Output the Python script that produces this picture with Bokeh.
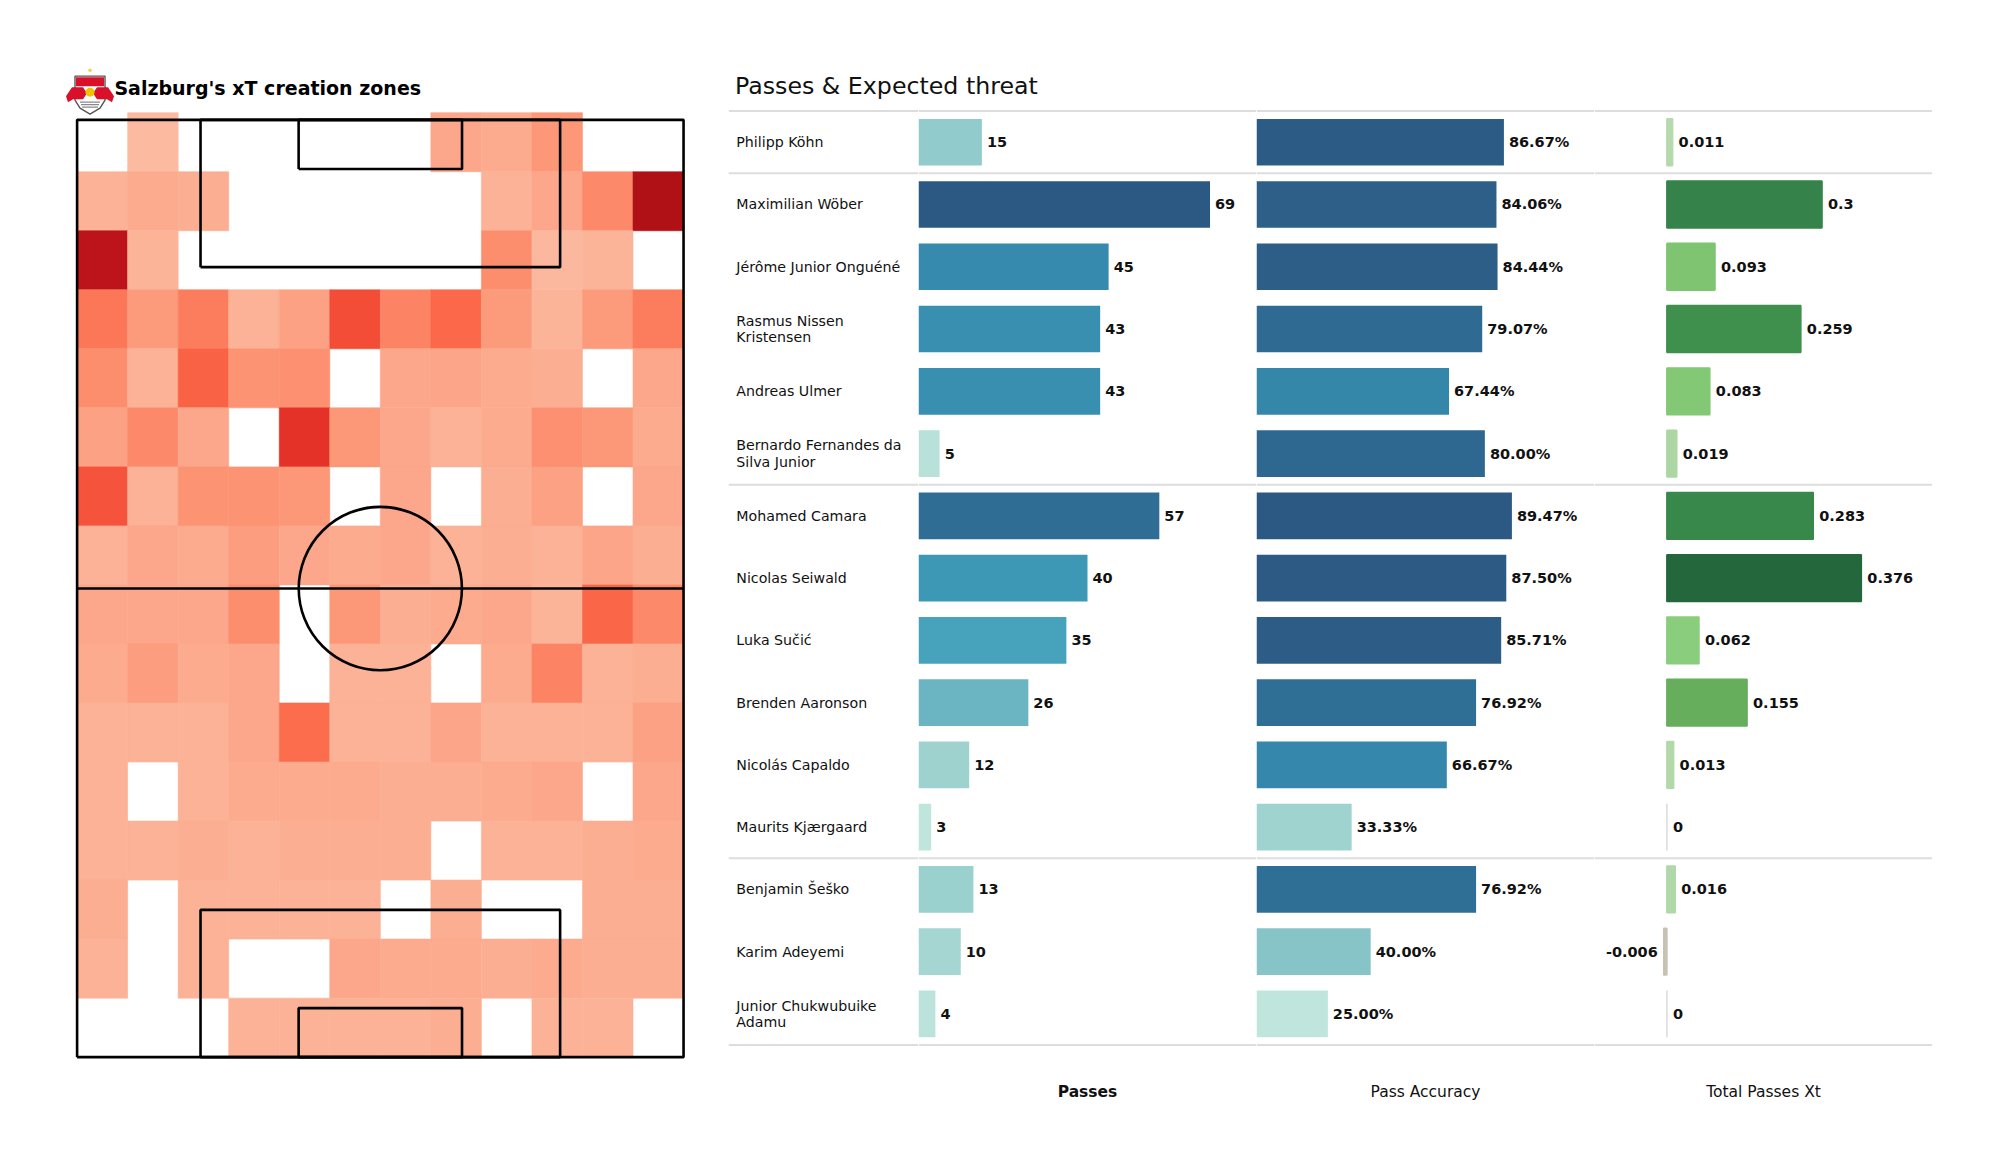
from bokeh.plotting import figure
from bokeh.models import Range1d, LinearColorMapper, ColumnDataSource, Label, Span
from bokeh.transform import transform
from bokeh.palettes import Reds256
from bokeh.layouts import row, column
from bokeh.core.properties import value, field
from bokeh.embed import file_html
from bokeh.resources import INLINE

# ---------------- data ----------------
# xT creation zones: 16 rows (top = attacking end) x 12 columns, normalised intensity (None = no value)
xt_zones = [
    [None, 0.25, None, None, None, None, None, 0.31, 0.30, 0.36, None, None],
    [0.28, 0.30, 0.29, None, None, None, None, None, 0.28, 0.31, 0.40, 0.84],
    [0.80, 0.27, None, None, None, None, None, None, 0.39, 0.26, 0.27, None],
    [0.46, 0.35, 0.44, 0.28, 0.33, 0.58, 0.42, 0.50, 0.35, 0.27, 0.35, 0.44],
    [0.39, 0.28, 0.52, 0.37, 0.38, None, 0.31, 0.32, 0.30, 0.29, None, 0.31],
    [0.33, 0.40, 0.31, None, 0.66, 0.36, 0.31, 0.28, 0.30, 0.38, 0.36, 0.30],
    [0.56, 0.28, 0.37, 0.37, 0.36, None, 0.31, None, 0.29, 0.33, None, 0.31],
    [0.28, 0.31, 0.30, 0.34, 0.31, 0.30, 0.31, 0.28, 0.29, 0.28, 0.32, 0.29],
    [0.31, 0.31, 0.31, 0.39, None, 0.36, 0.29, 0.30, 0.31, 0.27, 0.51, 0.40],
    [0.30, 0.34, 0.30, 0.31, None, 0.28, 0.28, None, 0.30, 0.42, 0.28, 0.29],
    [0.28, 0.28, 0.28, 0.31, 0.49, 0.28, 0.28, 0.32, 0.28, 0.28, 0.28, 0.33],
    [0.28, None, 0.28, 0.30, 0.30, 0.30, 0.29, 0.29, 0.30, 0.31, None, 0.31],
    [0.28, 0.28, 0.29, 0.28, 0.29, 0.29, 0.29, None, 0.28, 0.28, 0.29, 0.30],
    [0.29, None, 0.28, 0.28, 0.28, 0.28, None, 0.29, None, None, 0.29, 0.29],
    [0.28, None, 0.28, None, None, 0.31, 0.30, 0.30, 0.29, 0.30, 0.29, 0.29],
    [None, None, None, 0.28, 0.28, 0.28, 0.28, 0.29, None, 0.28, 0.28, None],
]

players = ["Philipp Köhn", "Maximilian Wöber", "Jérôme Junior Onguéné",
           "Rasmus Nissen\nKristensen", "Andreas Ulmer",
           "Bernardo Fernandes da\nSilva Junior", "Mohamed Camara",
           "Nicolas Seiwald", "Luka Sučić", "Brenden  Aaronson",
           "Nicolás Capaldo", "Maurits Kjærgaard", "Benjamin Šeško",
           "Karim Adeyemi", "Junior Chukwubuike\nAdamu"]
groups = ["GK", "DF", "DF", "DF", "DF", "DF", "MF", "MF", "MF", "MF", "MF", "MF", "FW", "FW", "FW"]
passes = [15, 69, 45, 43, 43, 5, 57, 40, 35, 26, 12, 3, 13, 10, 4]
accuracy = [86.67, 84.06, 84.44, 79.07, 67.44, 80.00, 89.47, 87.50, 85.71, 76.92, 66.67, 33.33, 76.92, 40.00, 25.00]
total_xt = [0.011, 0.3, 0.093, 0.259, 0.083, 0.019, 0.283, 0.376, 0.062, 0.155, 0.013, 0, 0.016, -0.006, 0]

column_titles = ["Passes", "Pass Accuracy", "Total Passes Xt"]
heat_title = "Salzburg's xT creation zones"
table_title = "Passes & Expected threat"

FONT_NAME = "DejaVu Sans"
FONT = value(FONT_NAME)


def interp_palette(anchors, n=256):
    def h2rgb(h):
        return tuple(int(h[i:i + 2], 16) for i in (1, 3, 5))
    out = []
    for k in range(n):
        t = k / (n - 1)
        for (t0, c0), (t1, c1) in zip(anchors, anchors[1:]):
            if t <= t1:
                break
        f = 0 if t1 == t0 else min(max((t - t0) / (t1 - t0), 0), 1)
        a, b = h2rgb(c0), h2rgb(c1)
        out.append("#%02x%02x%02x" % tuple(round(a[i] + (b[i] - a[i]) * f) for i in range(3)))
    return out


BLUES = interp_palette([(0.0, "#bfe5dc"), (0.13, "#9fd3cf"), (0.18, "#91cbcb"), (0.35, "#6bb4c2"),
                        (0.485, "#47a3bc"), (0.56, "#3d98b5"), (0.63, "#368bae"), (0.81, "#2f6f96"),
                        (0.9, "#2d6089"), (1.0, "#2c5884")])
GREENS = interp_palette([(0.0, "#c9c2b3"), (0.0157, "#dddddd"), (0.0445, "#b4d9ab"), (0.0654, "#abd7a4"),
                         (0.178, "#8acd7b"), (0.259, "#7fc571"), (0.421, "#66ae5c"), (0.694, "#3f8f4d"),
                         (0.801, "#35834a"), (1.0, "#24673d")])

# ---------------- heatmap (left) ----------------
PITCH_L, PITCH_W = 105.0, 68.0
n_rows, n_cols = len(xt_zones), len(xt_zones[0])
tile_w = PITCH_W / n_cols
tile_h = 105.8 / n_rows

heat = figure(width=728, height=1120, x_range=Range1d(-8.589, 73.04), y_range=Range1d(-7.094, 118.37),
              toolbar_location=None, output_backend="svg", min_border=0,
              x_axis_location=None, y_axis_location=None, outline_line_color=None)
heat.xgrid.visible = False
heat.ygrid.visible = False

lefts, rights, tops, bottoms, vals = [], [], [], [], []
for r, rowvals in enumerate(xt_zones):
    for c, v in enumerate(rowvals):
        if v is None:
            continue
        lefts.append(c * tile_w)
        rights.append((c + 1) * tile_w)
        bottoms.append((n_rows - 1 - r) * tile_h)
        tops.append((n_rows - r) * tile_h)
        vals.append(v)
reds = LinearColorMapper(palette=list(reversed(Reds256)), low=0, high=1)
heat.quad(left="left", right="right", top="top", bottom="bottom",
          fill_color=transform("v", reds), line_color=transform("v", reds), line_width=0.6,
          source=ColumnDataSource(dict(left=lefts, right=rights, top=tops, bottom=bottoms, v=vals)))

# pitch markings
LW = 2.6
box_xs, box_ys = [], []
def rect(x0, x1, y0, y1):
    box_xs.append([x0, x1, x1, x0, x0])
    box_ys.append([y0, y0, y1, y1, y0])
rect(0, PITCH_W, 0, PITCH_L)
rect(13.84, 54.16, PITCH_L - 16.5, PITCH_L)
rect(24.84, 43.16, PITCH_L - 5.5, PITCH_L)
rect(13.84, 54.16, 0, 16.5)
rect(24.84, 43.16, 0, 5.5)
box_xs.append([0, PITCH_W]); box_ys.append([PITCH_L / 2, PITCH_L / 2])
heat.multi_line(xs=box_xs, ys=box_ys, line_color="black", line_width=LW)
heat.ellipse(x=[PITCH_W / 2], y=[PITCH_L / 2], width=18.3, height=18.3,
             fill_color=None, line_color="black", line_width=LW)

# crest (simplified)
SX, SY = 8.918, 8.923
cx, cy = 1.447, 108.1
def P(pts):
    return [cx + dx / SX for dx, dy in pts], [cy - dy / SY for dx, dy in pts]
sx_, sy_ = P([(-15, -16), (15, -16), (15, 8), (10, 16), (0, 22), (-10, 16), (-15, 8)])
heat.patch(sx_, sy_, fill_color="white", line_color="#555555", line_width=1.4)
bx, by = P([(-14, -15), (14, -15), (14, -6), (-14, -6)])
heat.patch(bx, by, fill_color="#d8102a", line_color=None)
for sgn in (-1, 1):
    lx, ly = P([(sgn * 24, 4), (sgn * 18, -5), (sgn * 7, -5), (sgn * 3, 1), (sgn * 7, 7), (sgn * 17, 7), (sgn * 22, 10)])
    heat.patch(lx, ly, fill_color="#d8102a", line_color=None)
yx, yy = P([(0, 0)])
heat.ellipse(x=yx, y=yy, width=9 / SX, height=9 / SY, fill_color="#f2c200", line_color=None)
for k in range(3):
    ax_, ay_ = P([(-10 + k, 10 + 2.5 * k), (10 - k, 10 + 2.5 * k)])
    heat.line(ax_, ay_, line_color="#8a8a8a", line_width=1.2)
stx, sty = P([(0, -22)])
heat.ellipse(x=stx, y=sty, width=3.5 / SX, height=3.5 / SY, fill_color="#f2d24a", line_color=None)

heat.add_layout(Label(x=4.18, y=108.58, text=heat_title, text_font=FONT_NAME, text_font_size="19px",
                      text_font_style="bold", text_color="black", text_baseline="alphabetic"))

# ---------------- table (right) ----------------
n = len(players)
idx = list(range(n))
sep_lines = [-0.5] + [i + 0.5 for i in range(n - 1) if groups[i] != groups[i + 1]] + [n - 0.5]

xt_labels = [f"{round(v, 3):g}" for v in total_xt]
src = ColumnDataSource(dict(
    idx=idx, name=players, passes=passes, accuracy=accuracy, xt=total_xt,
    zero=[0] * n,
    passes_label=[str(v) for v in passes],
    acc_label=[f"{v:.2f}%" for v in accuracy],
    xt_label=xt_labels,
    xt_align=["right" if v < 0 else "left" for v in total_xt],
    xt_off=[-6 if v < 0 else 6 for v in total_xt],
))

Y_RANGE = (15.712, -0.5418)
LABEL_Y = 15.25
VAL_SIZE = "14.5px"


def table_fig(width, x0, x1):
    f = figure(width=width, height=1012, x_range=Range1d(x0, x1), y_range=Range1d(*Y_RANGE),
               toolbar_location=None, output_backend="svg", min_border=0,
               x_axis_location=None, y_axis_location=None, outline_line_color=None)
    f.xgrid.visible = False
    f.ygrid.visible = False
    for yb in sep_lines:
        f.add_layout(Span(location=yb, dimension="width", line_color="#dddddd", line_width=2))
    return f


names_fig = table_fig(190, 0, 190)
names_fig.text(x=7.8, y="idx", text="name", source=src, text_font=FONT, text_font_size="14.2px",
               text_color="#111111", text_baseline="middle", text_align="left", text_line_height=1.02)

passes_fig = table_fig(338, 0, 80)
pmap = LinearColorMapper(palette=BLUES, low=min(passes), high=max(passes))
passes_fig.hbar(y="idx", left="zero", right="passes", height=0.75, source=src,
                fill_color=transform("passes", pmap), line_color=None)
passes_fig.text(x="passes", y="idx", text="passes_label", source=src, x_offset=5,
                text_font=FONT, text_font_size=VAL_SIZE, text_font_style="bold", text_color="#111111",
                text_baseline="middle", text_align="left")
passes_fig.text(x=[40], y=[LABEL_Y], text=[column_titles[0]], text_font=FONT, text_font_size="15.5px",
                text_font_style="bold", text_color="#111111", text_baseline="middle", text_align="center")

acc_fig = table_fig(338, 0, 118.4)
amap = LinearColorMapper(palette=BLUES, low=min(accuracy), high=max(accuracy))
acc_fig.hbar(y="idx", left="zero", right="accuracy", height=0.75, source=src,
             fill_color=transform("accuracy", amap), line_color=None)
acc_fig.text(x="accuracy", y="idx", text="acc_label", source=src, x_offset=5,
             text_font=FONT, text_font_size=VAL_SIZE, text_font_style="bold", text_color="#111111",
             text_baseline="middle", text_align="left")
acc_fig.text(x=[59.2], y=[LABEL_Y], text=[column_titles[1]], text_font=FONT, text_font_size="15.5px",
             text_color="#111111", text_baseline="middle", text_align="center")

xt_fig = table_fig(338, -0.140, 0.5137)
xmap = LinearColorMapper(palette=GREENS, low=min(total_xt), high=max(total_xt))
xt_fig.hbar(y="idx", left="zero", right="xt", height=0.75, source=src,
            fill_color=transform("xt", xmap), line_color=transform("xt", xmap), line_width=1.6)
xt_fig.text(x="xt", y="idx", text="xt_label", source=src, x_offset=field("xt_off"),
            text_font=FONT, text_font_size=VAL_SIZE, text_font_style="bold", text_color="#111111",
            text_baseline="middle", text_align=field("xt_align"))
xt_fig.text(x=[(-0.140 + 0.5137) / 2], y=[LABEL_Y], text=[column_titles[2]], text_font=FONT,
            text_font_size="15.5px", text_color="#111111", text_baseline="middle", text_align="center")

title_fig = figure(width=1204, height=108, x_range=Range1d(0, 1204), y_range=Range1d(108, 0),
                   toolbar_location=None, output_backend="svg", min_border=0,
                   x_axis_location=None, y_axis_location=None, outline_line_color=None)
title_fig.xgrid.visible = False
title_fig.ygrid.visible = False
title_fig.text(x=[6.5], y=[85], text=[table_title], text_font=FONT, text_font_size="23.7px",
               text_color="#111111", text_baseline="alphabetic", text_align="left")

layout = row(heat, column(title_fig, row(names_fig, passes_fig, acc_fig, xt_fig, spacing=0), spacing=0), spacing=0)

open("out.html", "w").write(file_html(layout, INLINE))
